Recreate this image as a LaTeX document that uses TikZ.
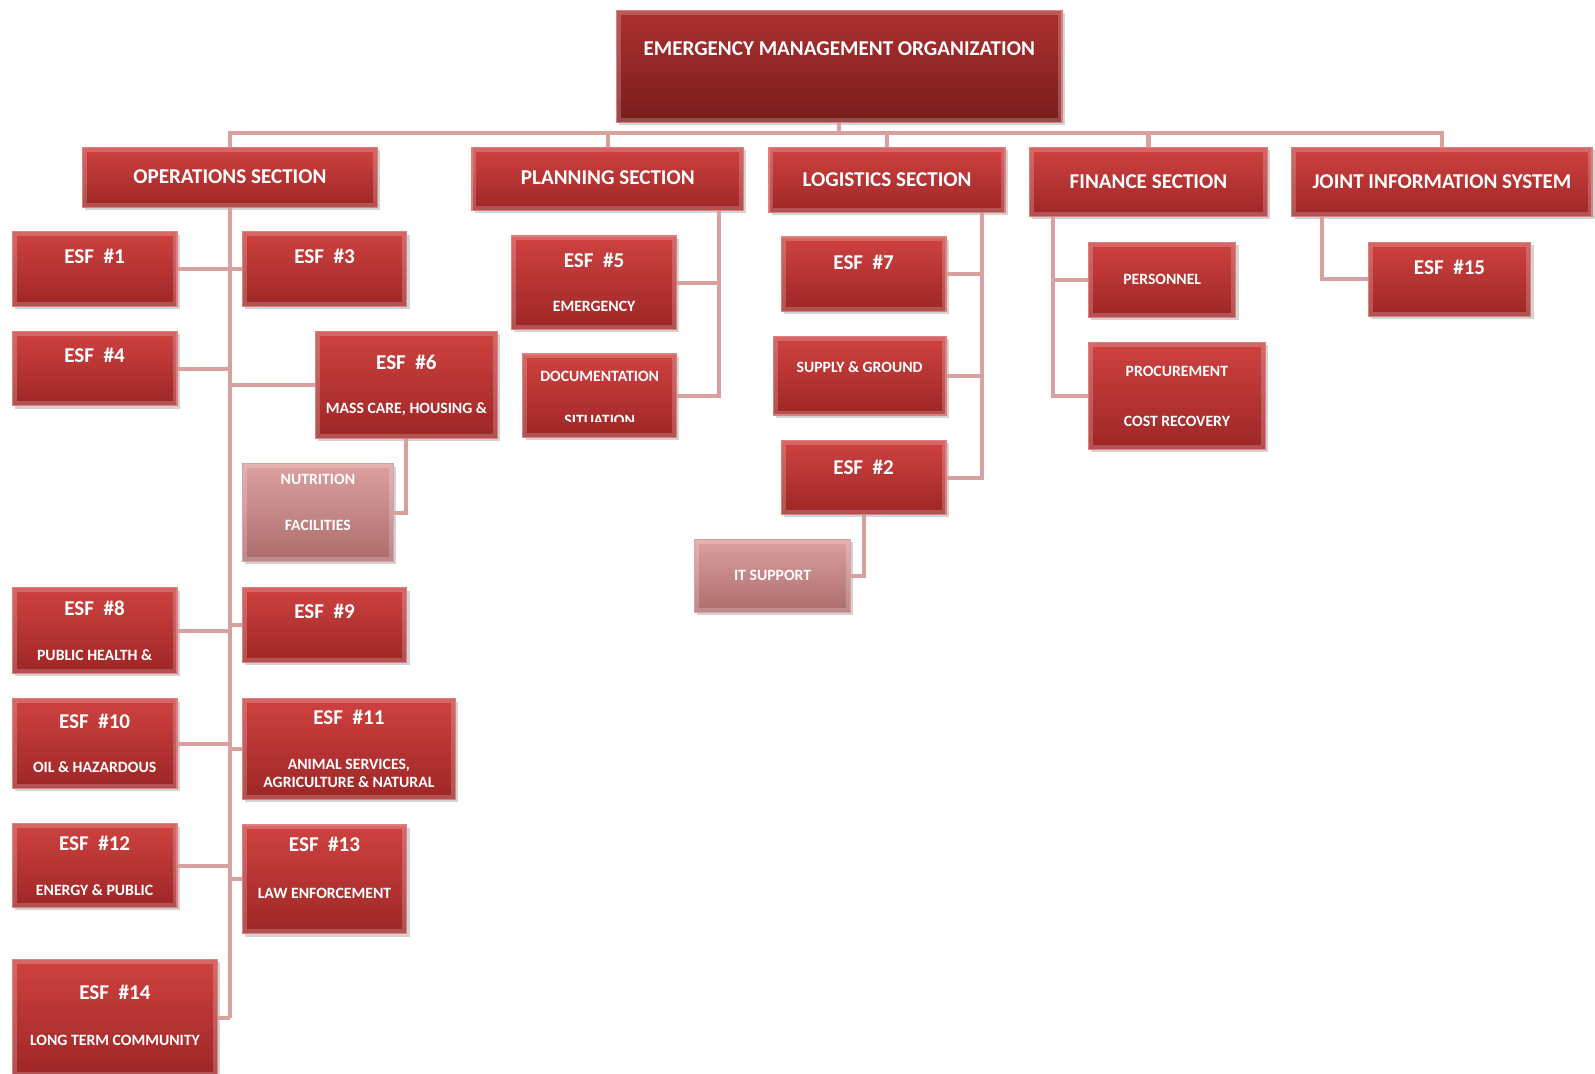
\documentclass[tikz,border=0pt]{standalone}
\usepackage{fontspec}
\setmainfont{Carlito}
\usetikzlibrary{shapes,arrows,positioning,fit,calc,shadows}
\definecolor{esfred}{RGB}{206,66,64}
\definecolor{esfdark}{RGB}{158,38,38}
\definecolor{emotop}{RGB}{172,48,48}
\definecolor{emobot}{RGB}{122,30,30}
\definecolor{paletop}{RGB}{220,160,160}
\definecolor{palebot}{RGB}{172,108,108}
\definecolor{linkpink}{RGB}{217,160,160}
\definecolor{edgered}{RGB}{224,128,126}
\tikzset{
    block/.style={rectangle, draw=edgered, line width=0.6pt, top color=esfred, bottom color=esfdark, inner sep=0pt, drop shadow={opacity=0.35, shadow xshift=1.5pt, shadow yshift=-1.5pt}, path picture={\draw[white, opacity=0.2, line width=5pt] (path picture bounding box.north west) rectangle (path picture bounding box.south east);}},
    topblock/.style={block, top color=emotop, bottom color=emobot},
    paleblock/.style={block, top color=paletop, bottom color=palebot, draw=paletop},
    head/.style={text=white, font=\bfseries\fontsize{11.8}{14}\selectfont},
    sub/.style={text=white, font=\bfseries\fontsize{8.8}{10.4}\selectfont, align=center},
    line/.style={draw=linkpink, line width=2.3pt}
}
\begin{document}
\begin{tikzpicture}[x=0.02cm, y=-0.02cm]
    \useasboundingbox (0,0) rectangle (1568,1055);
    % Head of the organization
    \node [topblock, fit={(606,10) (1044,120)}] (emo) {};
    \node [head] (emo-t) at ($(emo.north)+(0,38)$) {EMERGENCY MANAGEMENT ORGANIZATION};
    \coordinate (bus) at (0,131);

    % Sections
    \node [block, fit={(81,145) (371,204)}] (ops) {};
    \node [head] (ops-t) at ($(ops.north)+(0,29)$) {OPERATIONS SECTION};
    \node [block, fit={(464,145) (731,207)}] (plan) {};
    \node [head] (plan-t) at ($(plan.north)+(0,30)$) {PLANNING SECTION};
    \node [block, fit={(756,145) (988,209)}] (logi) {};
    \node [head] (logi-t) at ($(logi.north)+(0,32)$) {LOGISTICS SECTION};
    \node [block, fit={(1012,145) (1246,213)}] (fin) {};
    \node [head] (fin-t) at ($(fin.north)+(0,34)$) {FINANCE SECTION};
    \node [block, fit={(1270,145) (1565,213)}] (jis) {};
    \node [head] (jis-t) at ($(jis.north)+(0,34)$) {JOINT INFORMATION SYSTEM};

    % Operations
    \node [block, fit={(12,228) (174,301)}] (esf1) {};
    \node [head] (esf1-t) at ($(esf1.north)+(0,25)$) {ESF\ \ \#1};
    \node [block, fit={(238,228) (400,301)}] (esf3) {};
    \node [head] (esf3-t) at ($(esf3.north)+(0,25)$) {ESF\ \ \#3};
    \node [block, fit={(12,326) (174,399)}] (esf4) {};
    \node [head] (esf4-t) at ($(esf4.north)+(0,24)$) {ESF\ \ \#4};
    \node [block, fit={(310,326) (489,431)}] (esf6) {};
    \node [head] (esf6-t) at ($(esf6.north)+(0,31)$) {ESF\ \ \#6};
    \node [sub] (esf6-s) at ($(esf6.north)+(0,77)$) {MASS CARE, HOUSING \&};
    \node [paleblock, fit={(238,456) (387,552)}] (nutr) {};
    \node [sub] (nutr-t) at ($(nutr.north)+(0,16)$) {NUTRITION};
    \node [sub] (nutr-s) at ($(nutr.north)+(0,61)$) {FACILITIES};
    \node [block, fit={(12,578) (174,662)}] (esf8) {};
    \node [head] (esf8-t) at ($(esf8.north)+(0,21)$) {ESF\ \ \#8};
    \node [sub] (esf8-s) at ($(esf8.north)+(0,67)$) {PUBLIC HEALTH \&};
    \node [block, fit={(238,578) (400,651)}] (esf9) {};
    \node [head] (esf9-t) at ($(esf9.north)+(0,24)$) {ESF\ \ \#9};
    \node [block, fit={(12,687) (174,775)}] (esf10) {};
    \node [head] (esf10-t) at ($(esf10.north)+(0,23)$) {ESF\ \ \#10};
    \node [sub] (esf10-s) at ($(esf10.north)+(0,68)$) {OIL \& HAZARDOUS};
    \node [block, fit={(238,687) (448,786)}] (esf11) {};
    \node [head] (esf11-t) at ($(esf11.north)+(0,19)$) {ESF\ \ \#11};
    \node [sub] (esf11-s) at ($(esf11.north)+(0,74)$) {ANIMAL SERVICES,\\AGRICULTURE \& NATURAL};
    \node [block, fit={(12,810) (174,892)}] (esf12) {};
    \node [head] (esf12-t) at ($(esf12.north)+(0,20)$) {ESF\ \ \#12};
    \node [sub] (esf12-s) at ($(esf12.north)+(0,66)$) {ENERGY \& PUBLIC};
    \node [block, fit={(238,811) (400,918)}] (esf13) {};
    \node [head] (esf13-t) at ($(esf13.north)+(0,20)$) {ESF\ \ \#13};
    \node [sub] (esf13-s) at ($(esf13.north)+(0,68)$) {LAW ENFORCEMENT};
    \node [block, fit={(12,943) (214,1058)}] (esf14) {};
    \node [head] (esf14-t) at ($(esf14.north)+(0,33)$) {ESF\ \ \#14};
    \node [sub] (esf14-s) at ($(esf14.north)+(0,80)$) {LONG TERM COMMUNITY};

    % Planning
    \node [block, fit={(503,232) (665,324)}] (esf5) {};
    \node [head] (esf5-t) at ($(esf5.north)+(0,24)$) {ESF\ \ \#5};
    \node [sub] (esf5-s) at ($(esf5.north)+(0,70)$) {EMERGENCY};
    \node [block, fit={(514,348) (665,430)}] (doc) {};
    \node [sub] (doc-t) at ($(doc.north)+(0,23)$) {DOCUMENTATION};
    \begin{scope}
        \clip (doc.north west) rectangle ($(doc.north east)+(0,67)$);
        \node [sub] (doc-s) at ($(doc.north)+(0,66)$) {SITUATION};
    \end{scope}

    % Logistics
    \node [block, fit={(768,233) (930,306)}] (esf7) {};
    \node [head] (esf7-t) at ($(esf7.north)+(0,25)$) {ESF\ \ \#7};
    \node [block, fit={(760,331) (930,408)}] (supp) {};
    \node [sub] (supp-t) at ($(supp.north)+(0,30)$) {SUPPLY \& GROUND};
    \node [block, fit={(768,433) (930,506)}] (esf2) {};
    \node [head] (esf2-t) at ($(esf2.north)+(0,27)$) {ESF\ \ \#2};
    \node [paleblock, fit={(683,530) (836,602)}] (itsup) {};
    \node [sub] (itsup-t) at ($(itsup.north)+(0,36)$) {IT SUPPORT};

    % Finance
    \node [block, fit={(1070,238) (1215,312)}] (pers) {};
    \node [sub] (pers-t) at ($(pers.north)+(0,37)$) {PERSONNEL};
    \node [block, fit={(1070,337) (1244,442)}] (proc) {};
    \node [sub] (proc-t) at ($(proc.north)+(0,29)$) {PROCUREMENT};
    \node [sub] (proc-s) at ($(proc.north)+(0,78)$) {COST RECOVERY};

    % Joint information
    \node [block, fit={(1345,238) (1505,311)}] (esf15) {};
    \node [head] (esf15-t) at ($(esf15.north)+(0,25)$) {ESF\ \ \#15};

    % Connectors
    \path [line] (emo.south) -- (emo.south |- bus);
    \foreach \s in {ops,plan,logi,fin,jis}
        \path [line] (\s.north) |- (emo.south |- bus);
    \path [line] (ops.south) -- (ops.south |- esf14.east);
    \foreach \e in {esf1,esf4,esf8,esf10,esf12,esf14}
        \path [line] (\e.east) -- (\e.east -| ops.south);
    \foreach \e in {esf3,esf6,esf9,esf11,esf13}
        \path [line] (\e.west) -- (\e.west -| ops.south);
    \path [line] (esf6.south) |- (nutr.east);
    \coordinate (plantrunk) at ($(plan.south east)+(-25,0)$);
    \path [line] (plantrunk) |- (doc.east);
    \path [line] (esf5.east) -| (plantrunk);
    \coordinate (logitrunk) at ($(logi.south east)+(-23,0)$);
    \path [line] (logitrunk) |- (esf2.east);
    \path [line] (esf7.east) -| (logitrunk);
    \path [line] (supp.east) -| (logitrunk);
    \path [line] (esf2.south) |- (itsup.east);
    \coordinate (fintrunk) at ($(fin.south west)+(24,0)$);
    \path [line] (fintrunk) |- (proc.west);
    \path [line] (pers.west) -| (fintrunk);
    \coordinate (jistrunk) at ($(jis.south west)+(30,0)$);
    \path [line] (jistrunk) |- (esf15.west);
\end{tikzpicture}
\end{document}
